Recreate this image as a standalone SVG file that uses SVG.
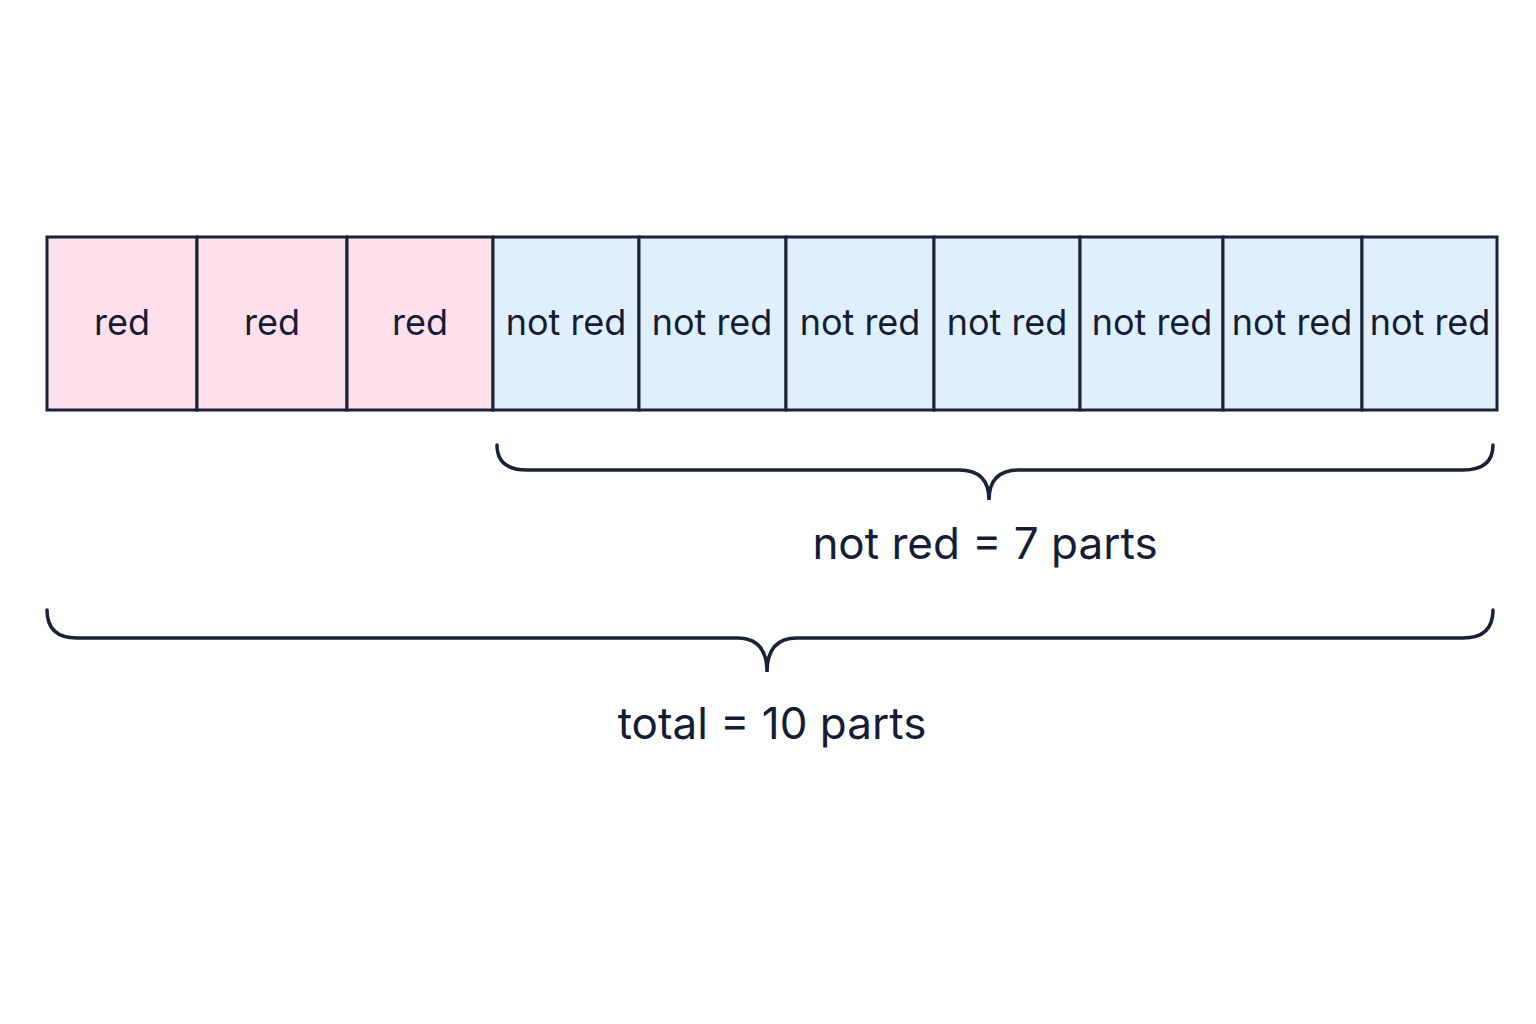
<svg xmlns="http://www.w3.org/2000/svg" width="1536" height="1024" viewBox="0 0 1536 1024">
<style>
.c{stroke:#1a2238;stroke-width:3}
.r{fill:#fde0ec}.b{fill:#e0effc}
text{font-family:Inter,"Noto Sans",sans-serif;fill:#141c36;text-anchor:middle}
.t{font-size:36px}.l{font-size:44px}
.br{fill:none;stroke:#1a2238;stroke-width:3.5;stroke-linecap:round}
</style>
<rect width="1536" height="1024" fill="#fff"/>
<g id="cells">
<g id="c1"><rect class="c r" x="47" y="237" width="150" height="173"/><text class="t" x="122" y="335">red</text></g>
<g id="c2"><rect class="c r" x="197" y="237" width="150" height="173"/><text class="t" x="272" y="335">red</text></g>
<g id="c3"><rect class="c r" x="347" y="237" width="146" height="173"/><text class="t" x="420" y="335">red</text></g>
<g id="c4"><rect class="c b" x="493" y="237" width="146" height="173"/><text class="t" x="566" y="335">not red</text></g>
<g id="c5"><rect class="c b" x="639" y="237" width="147" height="173"/><text class="t" x="712" y="335">not red</text></g>
<g id="c6"><rect class="c b" x="786" y="237" width="148" height="173"/><text class="t" x="860" y="335">not red</text></g>
<g id="c7"><rect class="c b" x="934" y="237" width="146" height="173"/><text class="t" x="1007" y="335">not red</text></g>
<g id="c8"><rect class="c b" x="1080" y="237" width="143" height="173"/><text class="t" x="1152" y="335">not red</text></g>
<g id="c9"><rect class="c b" x="1223" y="237" width="139" height="173"/><text class="t" x="1292" y="335">not red</text></g>
<g id="c10"><rect class="c b" x="1362" y="237" width="135" height="173"/><text class="t" x="1430" y="335">not red</text></g>
</g>
<g id="connectors">
<path class="br" d="M497 445 Q497 470 527 470 L959 470 Q989 470 989 500 Q989 470 1019 470 L1463 470 Q1493 470 1493 445"/>
<path class="br" d="M47 610 Q47 638 77 638 L737 638 Q767 638 767 672 Q767 638 797 638 L1463 638 Q1493 638 1493 610"/>
</g>
<g id="labels">
<text class="l" x="985" y="559">not red = 7 parts</text>
<text class="l" x="772" y="739">total = 10 parts</text>
</g>
</svg>
